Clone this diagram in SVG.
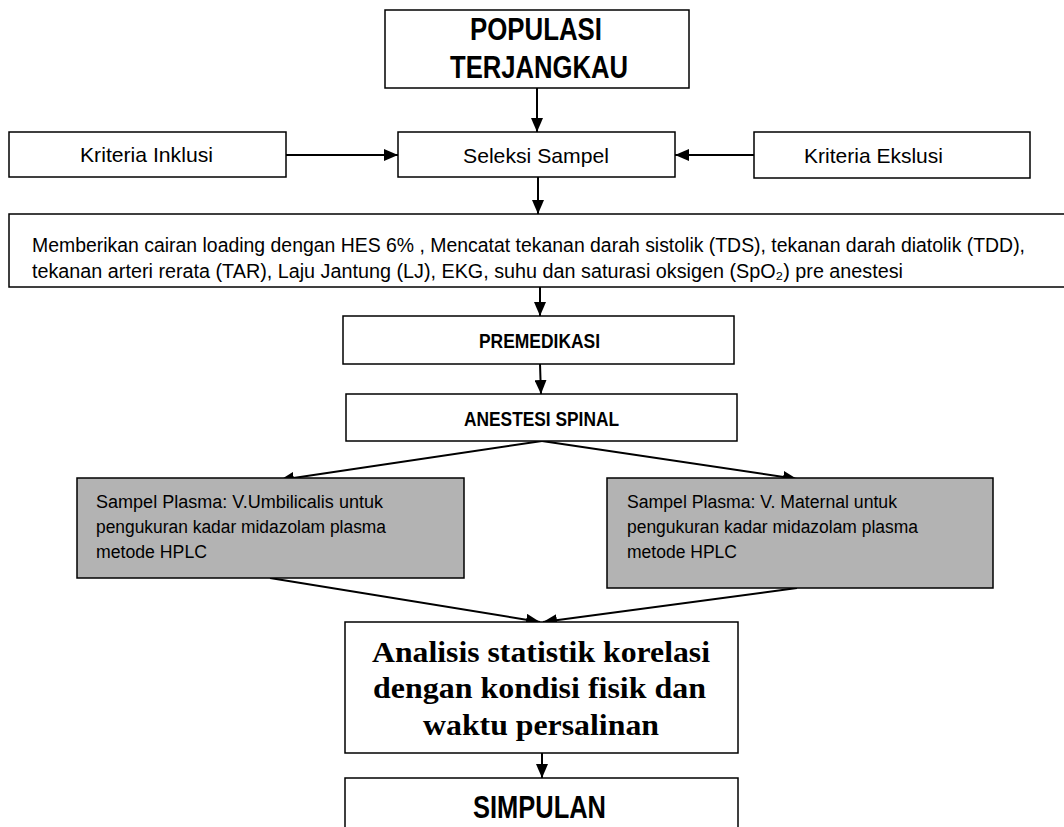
<svg xmlns="http://www.w3.org/2000/svg" width="1064" height="827" viewBox="0 0 1064 827">
<style>
.box{fill:#fff;stroke:#000;stroke-width:1.5}
.gray{fill:#b3b3b3;stroke:#000;stroke-width:1.5}
.t{font-family:"Liberation Sans",Arial,"DejaVu Sans",sans-serif;fill:#000}
.b{font-weight:bold}
.s{font-family:"Liberation Serif","Times New Roman",serif;font-weight:bold;fill:#000}
.c{fill:none;stroke:#000;stroke-width:2;marker-end:url(#ah)}
</style>
<defs>
<marker id="ah" markerUnits="userSpaceOnUse" markerWidth="14" markerHeight="12" refX="14" refY="6" orient="auto">
<path d="M0,0 L14,6 L0,12 z" fill="#000"/>
</marker>
</defs>
<rect width="1064" height="827" fill="#fff"/>
<g id="connectors">
<line class="c" x1="537" y1="88" x2="537" y2="132"/>
<line class="c" x1="286" y1="155" x2="398" y2="155"/>
<line class="c" x1="754" y1="155" x2="675" y2="155"/>
<line class="c" x1="538" y1="177" x2="538" y2="214"/>
<line class="c" x1="540" y1="287" x2="540" y2="316"/>
<line class="c" x1="540" y1="364" x2="541" y2="394"/>
<line class="c" x1="542" y1="441" x2="280" y2="480"/>
<line class="c" x1="542" y1="441" x2="797" y2="479"/>
<line class="c" x1="270" y1="578" x2="540" y2="622"/>
<line class="c" x1="797" y1="588" x2="543" y2="622"/>
<line class="c" x1="542" y1="753" x2="542" y2="778"/>
</g>
<g id="populasi">
<rect class="box" x="385" y="10" width="304" height="78"/>
<text class="t b" x="470" y="40" font-size="31" textLength="132" lengthAdjust="spacingAndGlyphs">POPULASI</text>
<text class="t b" x="450" y="78" font-size="31" textLength="178" lengthAdjust="spacingAndGlyphs">TERJANGKAU</text>
</g>
<g id="inklusi">
<rect class="box" x="9" y="132" width="277" height="45"/>
<text class="t" x="80" y="162" font-size="21" textLength="133" lengthAdjust="spacingAndGlyphs">Kriteria Inklusi</text>
</g>
<g id="seleksi">
<rect class="box" x="398" y="132" width="277" height="45"/>
<text class="t" x="463" y="163" font-size="21" textLength="146" lengthAdjust="spacingAndGlyphs">Seleksi Sampel</text>
</g>
<g id="eksklusi">
<rect class="box" x="754" y="132" width="276" height="46"/>
<text class="t" x="804" y="163" font-size="21" textLength="139" lengthAdjust="spacingAndGlyphs">Kriteria Ekslusi</text>
</g>
<g id="pengukuran">
<rect class="box" x="9" y="214" width="1070" height="73"/>
<text class="t" x="32" y="252" font-size="20" textLength="993" lengthAdjust="spacingAndGlyphs">Memberikan cairan loading dengan HES 6% , Mencatat tekanan darah sistolik (TDS), tekanan darah diatolik (TDD),</text>
<text class="t" x="32" y="278" font-size="20" textLength="871" lengthAdjust="spacingAndGlyphs">tekanan arteri rerata (TAR), Laju Jantung (LJ), EKG, suhu dan saturasi oksigen (SpO₂)  pre anestesi</text>
</g>
<g id="premedikasi">
<rect class="box" x="343" y="316" width="391" height="48"/>
<text class="t b" x="479" y="348" font-size="20" textLength="121" lengthAdjust="spacingAndGlyphs">PREMEDIKASI</text>
</g>
<g id="anestesi">
<rect class="box" x="346" y="394" width="391" height="47"/>
<text class="t b" x="464" y="426" font-size="20" textLength="155" lengthAdjust="spacingAndGlyphs">ANESTESI SPINAL</text>
</g>
<g id="umbilicalis">
<rect class="gray" x="77" y="478" width="387" height="100"/>
<text class="t" x="96" y="508" font-size="18" textLength="287" lengthAdjust="spacingAndGlyphs">Sampel Plasma: V.Umbilicalis  untuk</text>
<text class="t" x="96" y="533" font-size="18" textLength="290" lengthAdjust="spacingAndGlyphs">pengukuran kadar midazolam plasma</text>
<text class="t" x="96" y="558" font-size="18" textLength="111" lengthAdjust="spacingAndGlyphs">metode HPLC</text>
</g>
<g id="maternal">
<rect class="gray" x="607" y="478" width="386" height="110"/>
<text class="t" x="627" y="508" font-size="18" textLength="270" lengthAdjust="spacingAndGlyphs">Sampel Plasma: V. Maternal untuk</text>
<text class="t" x="627" y="533" font-size="18" textLength="291" lengthAdjust="spacingAndGlyphs">pengukuran kadar midazolam plasma</text>
<text class="t" x="627" y="558" font-size="18" textLength="110" lengthAdjust="spacingAndGlyphs">metode HPLC</text>
</g>
<g id="analisis">
<rect class="box" x="345" y="622" width="393" height="131"/>
<text class="s" x="372" y="662" font-size="29" textLength="338" lengthAdjust="spacingAndGlyphs">Analisis statistik korelasi</text>
<text class="s" x="373" y="698" font-size="29" textLength="333" lengthAdjust="spacingAndGlyphs">dengan kondisi fisik dan</text>
<text class="s" x="423" y="735" font-size="29" textLength="236" lengthAdjust="spacingAndGlyphs">waktu persalinan</text>
</g>
<g id="simpulan">
<rect class="box" x="345" y="778" width="393" height="60"/>
<text class="t b" x="473" y="818" font-size="31" textLength="133" lengthAdjust="spacingAndGlyphs">SIMPULAN</text>
</g>
</svg>
